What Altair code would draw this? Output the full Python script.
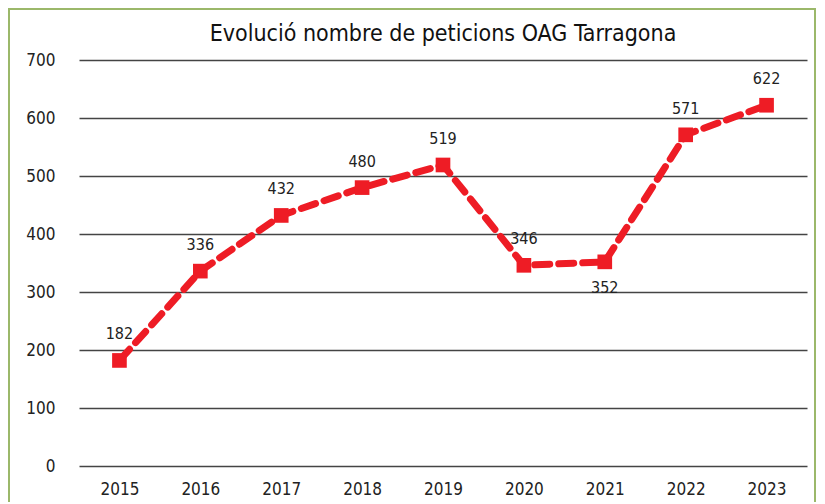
import altair as alt
import pandas as pd

years = ["2015", "2016", "2017", "2018", "2019", "2020", "2021", "2022", "2023"]
values = [182, 336, 432, 480, 519, 346, 352, 571, 622]
label_pos = ["above", "above", "above", "above", "above", "above", "below", "above", "above"]

df = pd.DataFrame({"year": years, "value": values, "pos": label_pos})

FONT = "DejaVu Sans Condensed, Liberation Sans Narrow, sans-serif"
RED = "#ee1c25"

x = alt.X("year:O", axis=alt.Axis(title=None, labelAngle=0, labelFontSize=17, labelColor="#222",
                                  labelFont=FONT, domain=False, ticks=False, labelPadding=15, grid=False),
          scale=alt.Scale(paddingOuter=0.5))
y = alt.Y("value:Q", scale=alt.Scale(domain=[0, 700]),
          axis=alt.Axis(title=None, values=list(range(0, 701, 100)), labelFontSize=17, labelColor="#222",
                        labelFont=FONT, domain=False, ticks=False, labelPadding=24,
                        grid=True, gridColor="#444", gridWidth=1.3))

base = alt.Chart(df)

border = base.mark_rect(fill=None, stroke="#9bb86a", strokeWidth=2, clip=False).encode(
    x=alt.value(-70), x2=alt.value(736), y=alt.value(-51), y2=alt.value(460)
).transform_filter("datum.year == '2015'")

line = base.mark_line(color=RED, strokeWidth=7, strokeDash=[15, 9], strokeCap="round").encode(x=x, y=y)
points = base.mark_square(color=RED, size=215, opacity=1).encode(x=x, y=y)
above = base.transform_filter("datum.pos == 'above'").mark_text(
    dy=-26, fontSize=16, font=FONT, color="#222").encode(x=x, y=y, text="value:Q")
below = base.transform_filter("datum.pos == 'below'").mark_text(
    dy=26, fontSize=16, font=FONT, color="#222").encode(x=x, y=y, text="value:Q")

chart = alt.layer(border, line, points, above, below).properties(
    width=728, height=406,
    title=alt.TitleParams("Evolució nombre de peticions OAG Tarragona", fontSize=23, font=FONT,
                          fontWeight="normal", color="#111", anchor="middle", offset=-38),
    autosize=alt.AutoSizeParams(type="none"),
    padding={"left": 71, "top": 52, "right": 10, "bottom": 36},
).configure_view(stroke=None)

chart.save("out.html", embed_options={"renderer": "svg", "actions": False})
